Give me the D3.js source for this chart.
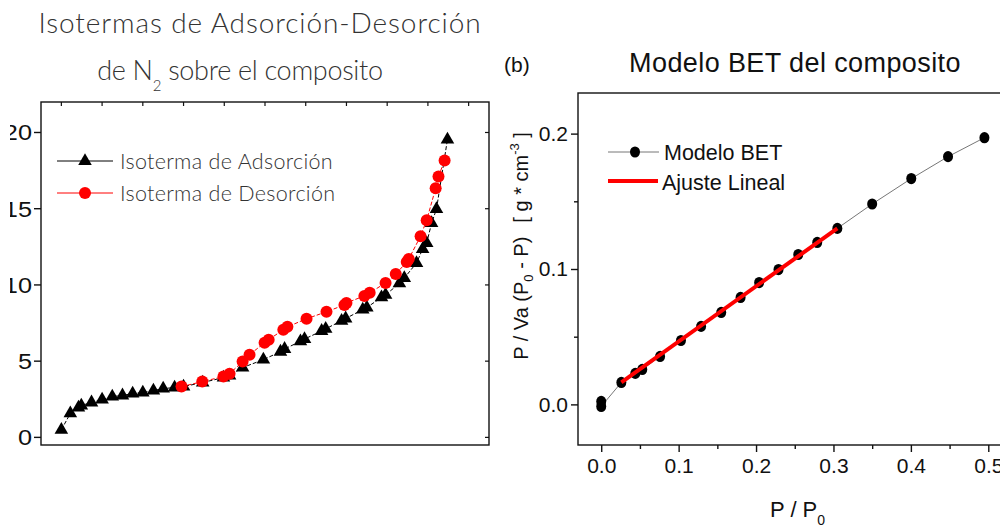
<!DOCTYPE html>
<html>
<head>
<meta charset="utf-8">
<script src="https://cdn.jsdelivr.net/npm/d3@7"></script>
<style>
  body { margin: 0; background: #fff; }
  svg { display: block; }
  .light { font-family: Lato, "Open Sans", sans-serif; font-weight: 300; }
  .reg { font-family: "Liberation Sans", Arial, sans-serif; }
</style>
</head>
<body>
<div id="main"></div>
<script>
// ---- data: panel (a) isotherms, P/P0 vs adsorbed volume
var adsX = [0.000, 0.022, 0.042, 0.049, 0.074, 0.100, 0.125, 0.150, 0.175, 0.200, 0.226, 0.250, 0.278, 0.300,
            0.347, 0.398, 0.413, 0.445, 0.496, 0.538, 0.548, 0.587, 0.597, 0.639, 0.649, 0.688, 0.698,
            0.740, 0.750, 0.786, 0.796, 0.830, 0.842, 0.872, 0.887, 0.897, 0.909, 0.921, 0.948];
var adsY = [0.50, 1.57, 1.96, 2.09, 2.29, 2.48, 2.68, 2.75, 2.88, 2.94, 3.07, 3.20, 3.27, 3.33,
            3.60, 3.92, 4.05, 4.58, 5.10, 5.62, 5.80, 6.30, 6.45, 6.98, 7.12, 7.65, 7.80,
            8.38, 8.52, 9.18, 9.35, 10.10, 10.45, 11.44, 12.35, 12.75, 14.05, 14.97, 19.54];
var desX = [0.295, 0.346, 0.398, 0.413, 0.445, 0.462, 0.499, 0.509, 0.545, 0.555, 0.602, 0.651, 0.695, 0.700,
            0.744, 0.757, 0.796, 0.821, 0.848, 0.853, 0.882, 0.897, 0.919, 0.926, 0.941];
var desY = [3.33, 3.66, 3.99, 4.18, 4.97, 5.42, 6.21, 6.41, 7.06, 7.25, 7.78, 8.24, 8.69, 8.82,
            9.28, 9.48, 10.13, 10.72, 11.50, 11.70, 13.20, 14.25, 16.34, 17.12, 18.17];
var aYTicks = [0, 5, 10, 15, 20];
var aXTicks = [0, 0.1, 0.2, 0.3, 0.4, 0.5, 0.6, 0.7, 0.8, 0.9, 1.0];

// ---- data: panel (b) BET
var betX = [0.000, 0.000, 0.026, 0.044, 0.053, 0.076, 0.103, 0.129, 0.155, 0.180, 0.204, 0.229, 0.2545, 0.279, 0.305,
            0.350, 0.4005, 0.448, 0.495];
var betY = [0.0022, -0.0015, 0.0162, 0.0229, 0.0258, 0.0354, 0.0472, 0.0576, 0.0679, 0.0790, 0.0900, 0.0996, 0.1107, 0.1196, 0.1300,
            0.1480, 0.1668, 0.1830, 0.1970];
var fitX = [0.026, 0.305];
var fitY = [0.0163, 0.1300];
var bYMajor = [0.0, 0.1, 0.2], bYMinor = [0.05, 0.15];
var bXMajor = [0.0, 0.1, 0.2, 0.3, 0.4, 0.5], bXMinor = [0.05, 0.15, 0.25, 0.35, 0.45];

var W = 1000, H = 525;
var svg = d3.select("#main").append("svg").attr("width", W).attr("height", H);

// the original figure is cropped on the left, the tick labels are cut there
svg.append("defs").append("clipPath").attr("id", "cutLeft")
  .append("rect").attr("x", 10).attr("y", 0).attr("width", 60).attr("height", H);

/* ================= panel (a) ================= */
var xA = d3.scaleLinear().domain([-0.05, 1.05]).range([41, 489]);
var yA = d3.scaleLinear().domain([-0.5, 22]).range([445, 102]);

var tri = d3.symbol().type(d3.symbolTriangle).size(80);

var gA = svg.append("g");
// frame
gA.append("rect").attr("x", 41).attr("y", 102).attr("width", 448).attr("height", 343)
  .attr("fill", "none").attr("stroke", "#111").attr("stroke-width", 1.4);
// left ticks (outside) + labels
gA.selectAll(".ytk").data(aYTicks).enter().append("line")
  .attr("x1", 34).attr("x2", 41).attr("y1", d => yA(d)).attr("y2", d => yA(d))
  .attr("stroke", "#111").attr("stroke-width", 1.4);
gA.selectAll(".ytkr").data(aYTicks).enter().append("line")
  .attr("x1", 485).attr("x2", 489).attr("y1", d => yA(d)).attr("y2", d => yA(d))
  .attr("stroke", "#111").attr("stroke-width", 1.2);
gA.append("g").attr("clip-path", "url(#cutLeft)")
  .selectAll(".ylab").data(aYTicks).enter().append("g")
  .attr("transform", d => "translate(32," + (yA(d) + 8) + ") scale(1.15,1)")
  .append("text").attr("class", "reg").attr("text-anchor", "end")
  .attr("font-size", 22).attr("fill", "#111").text(d => d);
// top ticks (inside)
gA.selectAll(".xtk").data(aXTicks).enter().append("line")
  .attr("x1", d => xA(d)).attr("x2", d => xA(d)).attr("y1", 102).attr("y2", 106)
  .attr("stroke", "#111").attr("stroke-width", 1.2);

var lineA = d3.line().x(d => xA(d[0])).y(d => yA(d[1]));
var adsPts = d3.zip(adsX, adsY), desPts = d3.zip(desX, desY);

gA.append("path").attr("d", lineA(adsPts)).attr("fill", "none")
  .attr("stroke", "#000").attr("stroke-width", 1).attr("stroke-dasharray", "4,2");
gA.append("path").attr("d", lineA(desPts)).attr("fill", "none")
  .attr("stroke", "#f00").attr("stroke-width", 1).attr("stroke-dasharray", "4,2");

gA.selectAll(".ads").data(adsPts).enter().append("path")
  .attr("d", tri).attr("transform", d => "translate(" + xA(d[0]) + "," + yA(d[1]) + ")")
  .attr("fill", "#000");
gA.selectAll(".des").data(desPts).enter().append("circle")
  .attr("cx", d => xA(d[0])).attr("cy", d => yA(d[1])).attr("r", 6)
  .attr("fill", "#f00");

// legend (a)
var legA = gA.append("g");
legA.append("line").attr("x1", 57).attr("x2", 113).attr("y1", 161).attr("y2", 161).attr("stroke", "#000").attr("stroke-width", 1);
legA.append("path").attr("d", tri).attr("transform", "translate(85,161)").attr("fill", "#000");
legA.append("text").attr("class", "light").attr("x", 120).attr("y", 169).attr("font-size", 21.5)
  .attr("letter-spacing", 0.3).attr("fill", "#333").text("Isoterma de Adsorción");
legA.append("line").attr("x1", 57).attr("x2", 113).attr("y1", 193).attr("y2", 193).attr("stroke", "#f00").attr("stroke-width", 1);
legA.append("circle").attr("cx", 85).attr("cy", 193).attr("r", 6).attr("fill", "#f00");
legA.append("text").attr("class", "light").attr("x", 120).attr("y", 201).attr("font-size", 21.5)
  .attr("letter-spacing", 0.3).attr("fill", "#333").text("Isoterma de Desorción");

// title (a)
svg.append("text").attr("class", "light").attr("x", 260).attr("y", 33).attr("text-anchor", "middle")
  .attr("font-size", 28).attr("letter-spacing", 0.9).attr("fill", "#333").text("Isotermas de Adsorción-Desorción");
var t2 = svg.append("text").attr("class", "light").attr("x", 240).attr("y", 80).attr("text-anchor", "middle")
  .attr("font-size", 27).attr("letter-spacing", -0.3).attr("fill", "#333");
t2.append("tspan").text("de N");
t2.append("tspan").attr("font-size", 15).attr("dy", 11).text("2");
t2.append("tspan").attr("dy", -11).text(" sobre el composito");

/* ================= panel (b) ================= */
var xB = d3.scaleLinear().domain([-0.03, 0.55]).range([578, 1027]);
var yB = d3.scaleLinear().domain([-0.03, 0.23]).range([445, 93]);

var gB = svg.append("g");
gB.append("rect").attr("x", 578).attr("y", 93).attr("width", 449).attr("height", 352)
  .attr("fill", "none").attr("stroke", "#111").attr("stroke-width", 1.4);

var axL = gB.append("g").attr("class", "reg").attr("transform", "translate(578,0)")
  .call(d3.axisLeft(yB).tickValues(bYMajor).tickSize(7).tickPadding(3).tickFormat(d3.format(".1f")));
var axLm = gB.append("g").attr("transform", "translate(578,0)")
  .call(d3.axisLeft(yB).tickValues(bYMinor).tickSize(4).tickFormat(""));
var axBt = gB.append("g").attr("class", "reg").attr("transform", "translate(0,445)")
  .call(d3.axisBottom(xB).tickValues(bXMajor).tickSize(7).tickPadding(6).tickFormat(d3.format(".1f")));
var axBm = gB.append("g").attr("transform", "translate(0,445)")
  .call(d3.axisBottom(xB).tickValues(bXMinor).tickSize(4).tickFormat(""));
[axL, axLm, axBt, axBm].forEach(function(a){
  a.select(".domain").remove();
  a.selectAll(".tick line").attr("stroke", "#111").attr("stroke-width", 1.4);
  a.selectAll("text").attr("font-size", 21).attr("fill", "#111").attr("font-family", "Liberation Sans, Arial, sans-serif");
});

var lineB = d3.line().x(d => xB(d[0])).y(d => yB(d[1]));
var betPts = d3.zip(betX, betY);
gB.append("path").attr("d", lineB(betPts)).attr("fill", "none").attr("stroke", "#777").attr("stroke-width", 1);
gB.selectAll(".bet").data(betPts).enter().append("ellipse")
  .attr("cx", d => xB(d[0])).attr("cy", d => yB(d[1])).attr("rx", 5).attr("ry", 5.6).attr("fill", "#000");
gB.append("path").attr("d", lineB(d3.zip(fitX, fitY))).attr("fill", "none")
  .attr("stroke", "#f00").attr("stroke-width", 4);

// legend (b)
var legB = gB.append("g");
legB.append("line").attr("x1", 608).attr("x2", 659).attr("y1", 152).attr("y2", 152).attr("stroke", "#777").attr("stroke-width", 1);
legB.append("ellipse").attr("cx", 635).attr("cy", 152).attr("rx", 5).attr("ry", 5.6).attr("fill", "#000");
legB.append("text").attr("class", "reg").attr("x", 664).attr("y", 160).attr("font-size", 21.5).attr("fill", "#111").text("Modelo BET");
legB.append("line").attr("x1", 608).attr("x2", 658).attr("y1", 181).attr("y2", 181).attr("stroke", "#f00").attr("stroke-width", 4);
legB.append("text").attr("class", "reg").attr("x", 662).attr("y", 190).attr("font-size", 21.5).attr("fill", "#111").text("Ajuste Lineal");

// titles / axis labels (b)
svg.append("text").attr("class", "reg").attr("x", 795).attr("y", 72).attr("text-anchor", "middle")
  .attr("font-size", 27).attr("letter-spacing", 0.4).attr("fill", "#111").text("Modelo BET del composito");
svg.append("text").attr("class", "reg").attr("x", 504).attr("y", 72)
  .attr("font-size", 21).attr("fill", "#111").text("(b)");

var yl = svg.append("text").attr("class", "reg").attr("transform", "translate(528,246) rotate(-90)")
  .attr("text-anchor", "middle").attr("font-size", 20).attr("fill", "#111");
yl.append("tspan").text("P / Va (P");
yl.append("tspan").attr("font-size", 13).attr("dy", 5).text("0");
yl.append("tspan").attr("dy", -5).text(" - P)");
yl.append("tspan").attr("dx", 14).text("[ g * cm");
yl.append("tspan").attr("font-size", 13).attr("dy", -9).text("-3");
yl.append("tspan").attr("dy", 9).text(" ]");

var xl = svg.append("text").attr("class", "reg").attr("x", 770).attr("y", 517)
  .attr("font-size", 22).attr("fill", "#111");
xl.append("tspan").text("P / P");
xl.append("tspan").attr("font-size", 14).attr("dy", 8).text("0");
</script>
</body>
</html>
